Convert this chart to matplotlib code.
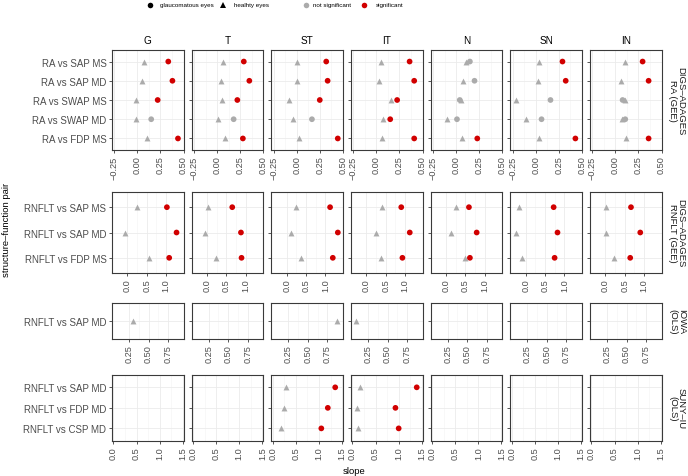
import matplotlib
matplotlib.use('Agg')
import matplotlib.pyplot as plt
from matplotlib.lines import Line2D
import numpy as np

plt.rcParams['font.family'] = ['Liberation Sans', 'DejaVu Sans']

nan = np.nan
regions = ['G', 'T', 'ST', 'IT', 'N', 'SN', 'IN']

# DIGS-ADAGES RA (GEE): one list per region, pairs top to bottom
ra_pairs = ['RA vs SAP MS', 'RA vs SAP MD', 'RA vs SWAP MS', 'RA vs SWAP MD', 'RA vs FDP MS']
ra_healthy = [
    [0.073, 0.055, -0.01, -0.01, 0.10],
    [0.06, 0.04, 0.05, 0.01, 0.085],
    [0.0, 0.0, -0.085, -0.045, 0.03],
    [0.05, 0.025, 0.16, 0.07, 0.063],
    [0.107, 0.08, 0.05, -0.10, 0.063],
    [0.035, 0.03, -0.21, -0.107, 0.038],
    [0.10, 0.063, 0.10, 0.07, 0.118],
]
ra_glaucoma = [
    [0.335, 0.38, 0.22, 0.15, 0.44],
    [0.29, 0.35, 0.22, 0.18, 0.28],
    [0.32, 0.335, 0.25, 0.165, 0.445],
    [0.36, 0.41, 0.225, 0.15, 0.41],
    [0.15, 0.2, 0.04, 0.01, 0.23],
    [0.29, 0.325, 0.16, 0.063, 0.43],
    [0.295, 0.36, 0.078, 0.107, 0.36],
]
ra_sig = [
    [1, 1, 1, 0, 1],
    [1, 1, 1, 0, 1],
    [1, 1, 1, 0, 1],
    [1, 1, 1, 1, 1],
    [0, 0, 0, 0, 1],
    [1, 1, 0, 0, 1],
    [1, 1, 0, 0, 1],
]

# DIGS-ADAGES RNFLT (GEE)
rnflt_pairs = ['RNFLT vs SAP MS', 'RNFLT vs SAP MD', 'RNFLT vs FDP MS']
rnflt_healthy = [
    [0.243, -0.06, 0.56],
    [0.025, -0.05, 0.225],
    [0.25, 0.12, 0.37],
    [0.40, 0.25, 0.38],
    [0.25, 0.12, 0.49],
    [-0.18, -0.25, -0.095],
    [0.017, 0.017, 0.21],
]
rnflt_glaucoma = [
    [1.02, 1.27, 1.08],
    [0.65, 0.875, 0.89],
    [1.12, 1.32, 1.19],
    [0.90, 1.12, 0.93],
    [0.59, 0.79, 0.615],
    [0.72, 0.82, 0.745],
    [0.66, 0.90, 0.64],
]
rnflt_sig = [[1, 1, 1]] * 7

# IOWA (OLS)
iowa_pairs = ['RNFLT vs SAP MD']
iowa_healthy = [[0.306], [nan], [0.876], [0.095], [nan], [nan], [nan]]
iowa_glaucoma = [[nan]] * 7
iowa_sig = [[0]] * 7

# SUNY-IU (OLS)
suny_pairs = ['RNFLT vs SAP MD', 'RNFLT vs FDP MD', 'RNFLT vs CSP MD']
suny_healthy = [[nan] * 3, [nan] * 3, [0.296, 0.25, 0.18], [0.166, 0.094, 0.13],
                [nan] * 3, [nan] * 3, [nan] * 3]
suny_glaucoma = [[nan] * 3, [nan] * 3, [1.35, 1.19, 1.05], [1.39, 0.93, 1.0],
                 [nan] * 3, [nan] * 3, [nan] * 3]
suny_sig = [[1, 1, 1]] * 7

strip_labels = ['DIGS\u2013ADAGES\nRA (GEE)', 'DIGS\u2013ADAGES\nRNFLT (GEE)',
                'IOWA\n(OLS)', 'SUNY\u2013IU\n(OLS)']

# layout (pixels) and per-row x scales
W, H = 688, 477
row_y = [(51, 151), (193, 274), (304, 340), (376, 441.7)]
col_x0 = 112; col_step = 79.67; col_w = 71.5
row_xlim = [(-0.275, 0.5), (-0.40, 1.45), (0.03, 0.95), (-0.03, 1.515)]
row_ticks = [[-0.25, 0, 0.25, 0.5], [0, 0.5, 1.0], [0.25, 0.5, 0.75], [0, 0.5, 1.0, 1.5]]
row_fmt = ['{:.2f}', '{:.1f}', '{:.2f}', '{:.1f}']

groups = [
    (ra_pairs, ra_healthy, ra_glaucoma, ra_sig),
    (rnflt_pairs, rnflt_healthy, rnflt_glaucoma, rnflt_sig),
    (iowa_pairs, iowa_healthy, iowa_glaucoma, iowa_sig),
    (suny_pairs, suny_healthy, suny_glaucoma, suny_sig),
]

c_grey = '#ABABAB'; c_red = '#D10000'; c_txt = '#4D4D4D'; c_border = '#3A3A3A'

fig = plt.figure(figsize=(W / 100, H / 100), dpi=100)

def rect(x0, y0, x1, y1):
    return [x0 / W, 1 - y1 / H, (x1 - x0) / W, (y1 - y0) / H]

for r, (pairs, healthy, glauc, sig) in enumerate(groups):
    y0, y1 = row_y[r]
    ypos = np.arange(len(pairs))
    for c, reg in enumerate(regions):
        x0 = col_x0 + c * col_step
        ax = fig.add_axes(rect(x0, y0, x0 + col_w, y1))
        ax.set_xlim(*row_xlim[r])
        ax.set_ylim(len(pairs) - 1 + 0.6, -0.6)
        ticks = row_ticks[r]
        ax.set_xticks(ticks)
        ax.set_xticklabels([row_fmt[r].format(t).replace('-', '\u2212') for t in ticks],
                           rotation=90, fontsize=6.6, color=c_txt)
        minors = [(a + b) / 2 for a, b in zip(ticks[:-1], ticks[1:])]
        ax.set_xticks(minors, minor=True)
        ax.tick_params(axis='x', which='minor', length=0)
        ax.grid(True, which='major', color='#EBEBEB', lw=0.6)
        ax.grid(True, which='minor', axis='x', color='#F4F4F4', lw=0.4)
        ax.set_axisbelow(True)
        ax.set_yticks(ypos)
        if c == 0:
            ax.set_yticklabels(pairs, fontsize=7, color=c_txt)
        else:
            ax.set_yticklabels([])
            ax.tick_params(axis='y', length=0)
        ax.tick_params(axis='both', which='major', length=2.5, width=0.6, color=c_border, pad=1.5)
        for s in ax.spines.values():
            s.set_color(c_border); s.set_linewidth(0.8)

        hv = np.array(healthy[c], dtype=float)
        gv = np.array(glauc[c], dtype=float)
        sv = np.array(sig[c])
        ax.scatter(hv, ypos, marker='^', s=18, color=c_grey, linewidths=0, zorder=3)
        cols = [c_red if s else c_grey for s in sv]
        ax.scatter(gv, ypos, marker='o', s=17, c=cols, linewidths=0, zorder=3)

        if r == 0:
            ax.set_title(reg, fontsize=7.2, pad=5)
    yc = (y0 + y1) / 2
    fig.text(677 / W, 1 - yc / H, strip_labels[r], rotation=-90, ha='center', va='center',
             fontsize=6.8, color='#1A1A1A', linespacing=0.9)

fig.text(7 / W, 1 - 230 / H, 'structure\u2013function pair', rotation=90, ha='center',
         va='center', fontsize=6.8)
fig.text(354 / W, 1 - 472 / H, 'slope', ha='center', va='center', fontsize=6.8)

# legend at top
leg_y = 1 - 5.5 / H
items = [(150, 'o', 'black', 'glaucomatous eyes', 160),
         (223, '^', 'black', 'healhty eyes', 234),
         (306, 'o', c_grey, 'not significant', 313),
         (364, 'o', c_red, 'significant', 376)]
for mx, mk, mc, lab, tx in items:
    fig.add_artist(Line2D([mx / W], [leg_y], marker=mk, color=mc, markersize=4,
                          lw=0, markeredgewidth=0, transform=fig.transFigure))
    fig.text(tx / W, leg_y, lab, ha='left', va='center', fontsize=4.5)

fig.savefig('out.png', dpi=100)
